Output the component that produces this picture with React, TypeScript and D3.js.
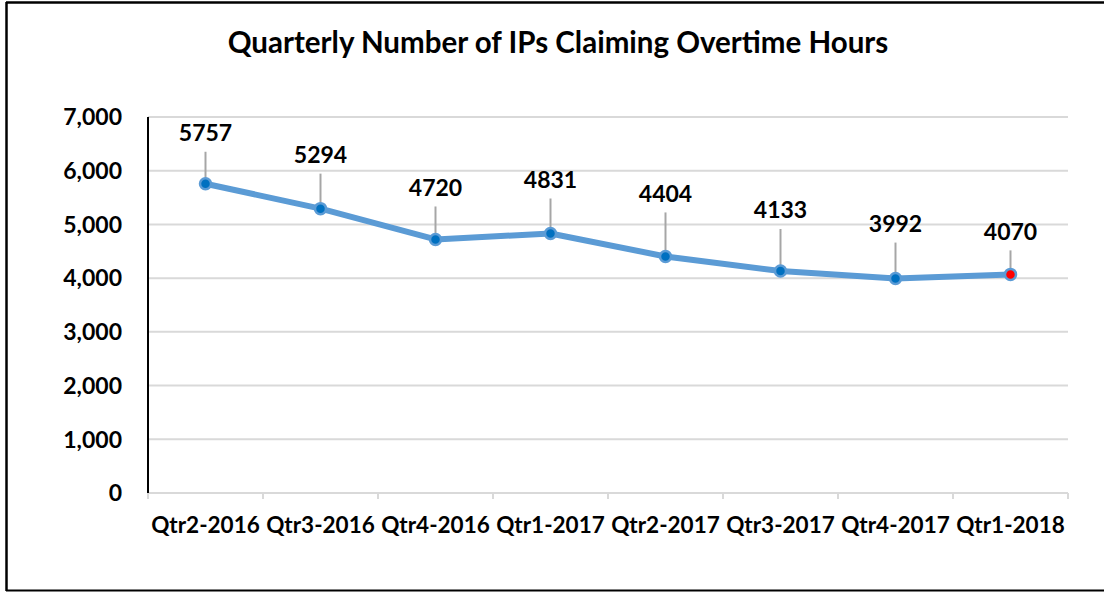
import React from "react";
import * as d3 from "d3";

const categories = ["Qtr2-2016", "Qtr3-2016", "Qtr4-2016", "Qtr1-2017", "Qtr2-2017", "Qtr3-2017", "Qtr4-2017", "Qtr1-2018"];
const values = [5757, 5294, 4720, 4831, 4404, 4133, 3992, 4070];
const yTicks = [0, 1000, 2000, 3000, 4000, 5000, 6000, 7000];
const title = "Quarterly Number of IPs Claiming Overtime Hours";
// label vertical offsets above the point (layout)
const labelLift = [51, 54, 52, 54, 63, 61, 55, 43];

const W = 1104, H = 592;
const plot = { left: 148, right: 1068, top: 117, bottom: 493 };
const FONT = "Lato, 'Open Sans', sans-serif";

export default function App() {
  const x = d3.scaleBand<string>().domain(categories).range([plot.left, plot.right]);
  const y = d3.scaleLinear().domain([0, 7000]).range([plot.bottom, plot.top]);
  const cx = (c: string) => (x(c) as number) + x.bandwidth() / 2;
  const line = d3.line<number>().x((_, i) => cx(categories[i])).y((v) => y(v));
  const fmt = d3.format(",");
  const boundaries = categories.map((c) => x(c) as number).concat([plot.right]);

  return (
    <svg width={W} height={H} style={{ position: "absolute", left: 0, top: 0, background: "#fff" }} fontFamily={FONT}>
      <rect x={0} y={0} width={W} height={H} fill="#fff" />
      {/* outer frame */}
      <line x1={6} x2={W} y1={2.5} y2={2.5} stroke="#000" strokeWidth={2.5} />
      <line x1={6.5} x2={6.5} y1={2} y2={591} stroke="#000" strokeWidth={2.5} />
      <line x1={6} x2={W} y1={590.5} y2={590.5} stroke="#000" strokeWidth={2} />

      <text x={558} y={53} textAnchor="middle" fontSize={29.5} fontWeight="bold" fill="#000">{title}</text>

      {/* gridlines */}
      {yTicks.filter((t) => t > 0).map((t) => (
        <line key={t} x1={plot.left} x2={plot.right} y1={y(t)} y2={y(t)} stroke="#D9D9D9" strokeWidth={2} />
      ))}
      {/* x axis */}
      <line x1={plot.left} x2={plot.right} y1={y(0)} y2={y(0)} stroke="#D9D9D9" strokeWidth={2} />
      {boundaries.map((b, i) => (
        <line key={i} x1={b} x2={b} y1={y(0)} y2={y(0) + 6} stroke="#D9D9D9" strokeWidth={2} />
      ))}
      {/* y axis */}
      <line x1={plot.left} x2={plot.left} y1={plot.top} y2={plot.bottom} stroke="#000" strokeWidth={2} />

      {yTicks.map((t) => (
        <text key={t} x={122} y={y(t)} dy="0.36em" textAnchor="end" fontSize={23} fontWeight="bold" fill="#000">{fmt(t)}</text>
      ))}
      {categories.map((c) => (
        <text key={c} x={cx(c)} y={533} textAnchor="middle" fontSize={22.5} fontWeight="bold" fill="#000">{c}</text>
      ))}

      <path d={line(values) || ""} fill="none" stroke="#5B9BD5" strokeWidth={6} strokeLinejoin="round" />

      {values.map((v, i) => {
        const px = cx(categories[i]);
        const py = y(v);
        const ty = py - labelLift[i];
        return (
          <g key={i}>
            <line x1={px} x2={px} y1={ty + 19} y2={py} stroke="#A6A6A6" strokeWidth={2} />
            <circle cx={px} cy={py} r={5.5} fill={i === values.length - 1 ? "#FF0000" : "#0070C0"} stroke="#5B9BD5" strokeWidth={2.5} />
            <text x={px} y={ty} dy="0.36em" textAnchor="middle" fontSize={23} fontWeight="bold" fill="#000">{v}</text>
          </g>
        );
      })}
    </svg>
  );
}
